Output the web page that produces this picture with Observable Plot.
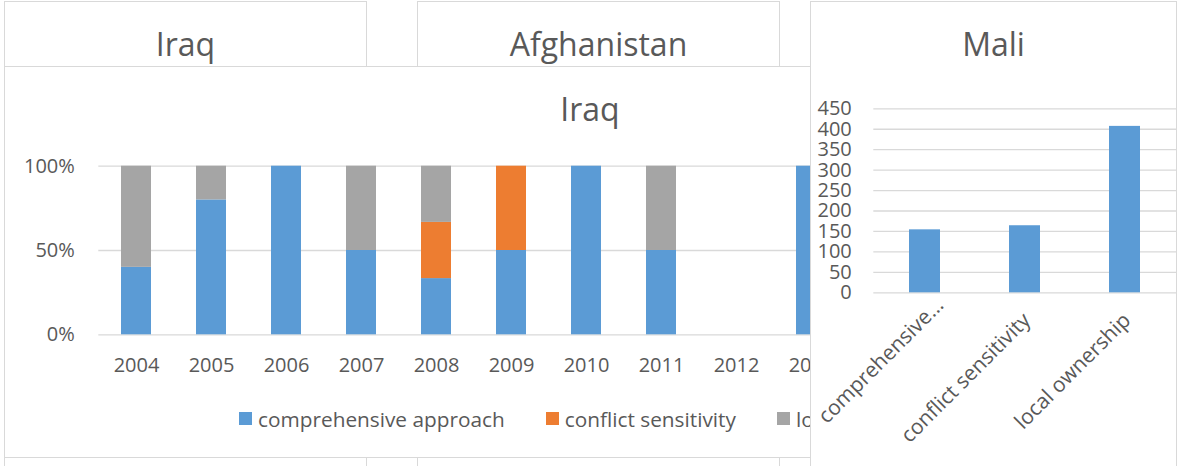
<!DOCTYPE html>
<html>
<head>
<meta charset="utf-8">
<script src="https://cdn.jsdelivr.net/npm/d3@7"></script>
<script src="https://cdn.jsdelivr.net/npm/@observablehq/plot@0.6"></script>
<style>
  html, body { margin: 0; padding: 0; background: #fff; }
  #stage { position: relative; width: 1177px; height: 466px; overflow: hidden; background: #fff; }
  .panel { position: absolute; box-sizing: border-box; border: 1px solid #d9d9d9; background: #fff; }
  .title { position: absolute; left: 0; right: 0; top: 26px; text-align: center;
           font: 32px/32px "Open Sans", sans-serif; color: #595959; white-space: nowrap; }
  .chart { position: absolute; left: 0; overflow: visible; }
  .lg-swatches { margin: 0 !important; min-height: 33px !important; flex-wrap: nowrap !important; white-space: nowrap; }
  .lg-swatch { margin-right: 41px !important; }
  .lg-swatch > svg { margin-right: 6px !important; }
</style>
</head>
<body>
<div id="stage">
  <div class="panel" style="left:4px;top:1px;width:363px;height:480px;"><div class="title">Iraq</div></div>
  <div class="panel" style="left:417px;top:1px;width:363px;height:480px;"><div class="title">Afghanistan</div></div>
  <div class="panel" id="iraq" style="left:4px;top:66px;width:1172px;height:392px;"><div class="title">Iraq</div></div>
  <div class="panel" id="mali" style="left:810px;top:1px;width:367px;height:480px;"><div class="title">Mali</div></div>
</div>
<script>
// Iraq: share of documents per year by principle (100% stacked)
const years = ["2004", "2005", "2006", "2007", "2008", "2009", "2010", "2011", "2012", "2013", "2014", "2015", "2016", "2017"];
const seriesNames = ["comprehensive approach", "conflict sensitivity", "local ownership"];
const seriesColors = ["#5b9bd5", "#ed7d31", "#a5a5a5"];
const iraqComprehensive = [0.4, 0.8, 1, 0.5, 1 / 3, 0.5, 1, 0.5, 0, 1];
const iraqConflict      = [0, 0, 0, 0, 1 / 3, 0.5, 0, 0, 0, 0];
const iraqLocal         = [0.6, 0.2, 0, 0.5, 1 / 3, 0, 0, 0.5, 0, 0];
const iraqTicks = [0, 0.5, 1];

// Mali: totals per principle
const maliCategories = ["comprehensive approach", "conflict sensitivity", "local ownership"];
const maliTickLabels = ["comprehensive…", "conflict sensitivity", "local ownership"];
const maliValues = [154, 164, 407];
const maliTicks = [0, 50, 100, 150, 200, 250, 300, 350, 400, 450];

const textStyle = { fontFamily: "'Open Sans', sans-serif", fontSize: "20px", color: "#595959", background: "transparent", overflow: "visible" };
const gridColor = "#d9d9d9";

// Long-format rows for the stacked bars
const iraqSeries = [iraqComprehensive, iraqConflict, iraqLocal];
const iraqRows = [];
iraqComprehensive.forEach((_, i) => {
  seriesNames.forEach((name, s) => {
    const v = iraqSeries[s][i];
    if (v > 0) iraqRows.push({ year: years[i], series: name, share: v });
  });
});

const iraqChart = Plot.plot({
  width: 1170,
  height: 240,
  marginLeft: 93.3,
  marginRight: 26.7,
  marginTop: 15.7,
  marginBottom: 55.7,
  style: textStyle,
  x: { type: "band", domain: years, paddingInner: 0.6, paddingOuter: 0.3 },
  y: { domain: [0, 1] },
  color: { domain: seriesNames, range: seriesColors },
  marks: [
    Plot.gridY(iraqTicks, { stroke: gridColor, strokeOpacity: 1, strokeWidth: 1.3 }),
    Plot.barY(iraqRows, { x: "year", y: "share", fill: "series" }),
    Plot.axisY({ ticks: iraqTicks, tickSize: 0, tickPadding: 24, tickFormat: d3.format(".0%"), label: null }),
    Plot.axisX({ tickSize: 0, tickPadding: 23, label: null })
  ]
});
iraqChart.classList.add("chart");
iraqChart.style.top = "83px";
document.getElementById("iraq").appendChild(iraqChart);

const legend = Plot.legend({
  color: { domain: seriesNames, range: seriesColors },
  legend: "swatches",
  swatchWidth: 13,
  swatchHeight: 13,
  className: "lg",
  style: { fontFamily: "'Open Sans', sans-serif", fontSize: "20.8px", color: "#595959" }
});
legend.style.position = "absolute";
legend.style.left = "234px";
legend.style.top = "335px";
document.getElementById("iraq").appendChild(legend);

// Rotated category labels; the truncated one sits further along its own direction
const maliLabelFormat = d => maliTickLabels[maliCategories.indexOf(d)];
const maliLabelOptions = { tickSize: 0, tickPadding: 22, tickRotate: -45, label: null, fontSize: 21, tickFormat: maliLabelFormat };

const maliRows = maliCategories.map((c, i) => ({ principle: c, value: maliValues[i] }));
const maliChart = Plot.plot({
  width: 365,
  height: 370,
  marginLeft: 62.3,
  marginRight: 0,
  marginTop: 18.3,
  marginBottom: 167.7,
  style: textStyle,
  x: { type: "band", domain: maliCategories, paddingInner: 0.687, paddingOuter: 0.3435 },
  y: { domain: [0, 450] },
  marks: [
    Plot.gridY(maliTicks, { stroke: gridColor, strokeOpacity: 1, strokeWidth: 1.3 }),
    Plot.barY(maliRows, { x: "principle", y: "value", fill: seriesColors[0] }),
    Plot.axisY({ ticks: maliTicks, tickSize: 0, tickPadding: 22, label: null }),
    Plot.axisX(maliCategories.slice(0, 1), { ...maliLabelOptions, dx: 15, dy: -13 }),
    Plot.axisX(maliCategories.slice(1), { ...maliLabelOptions, dx: 2, dy: 2 })
  ]
});
maliChart.classList.add("chart");
maliChart.style.top = "88px";
document.getElementById("mali").appendChild(maliChart);
</script>
</body>
</html>
